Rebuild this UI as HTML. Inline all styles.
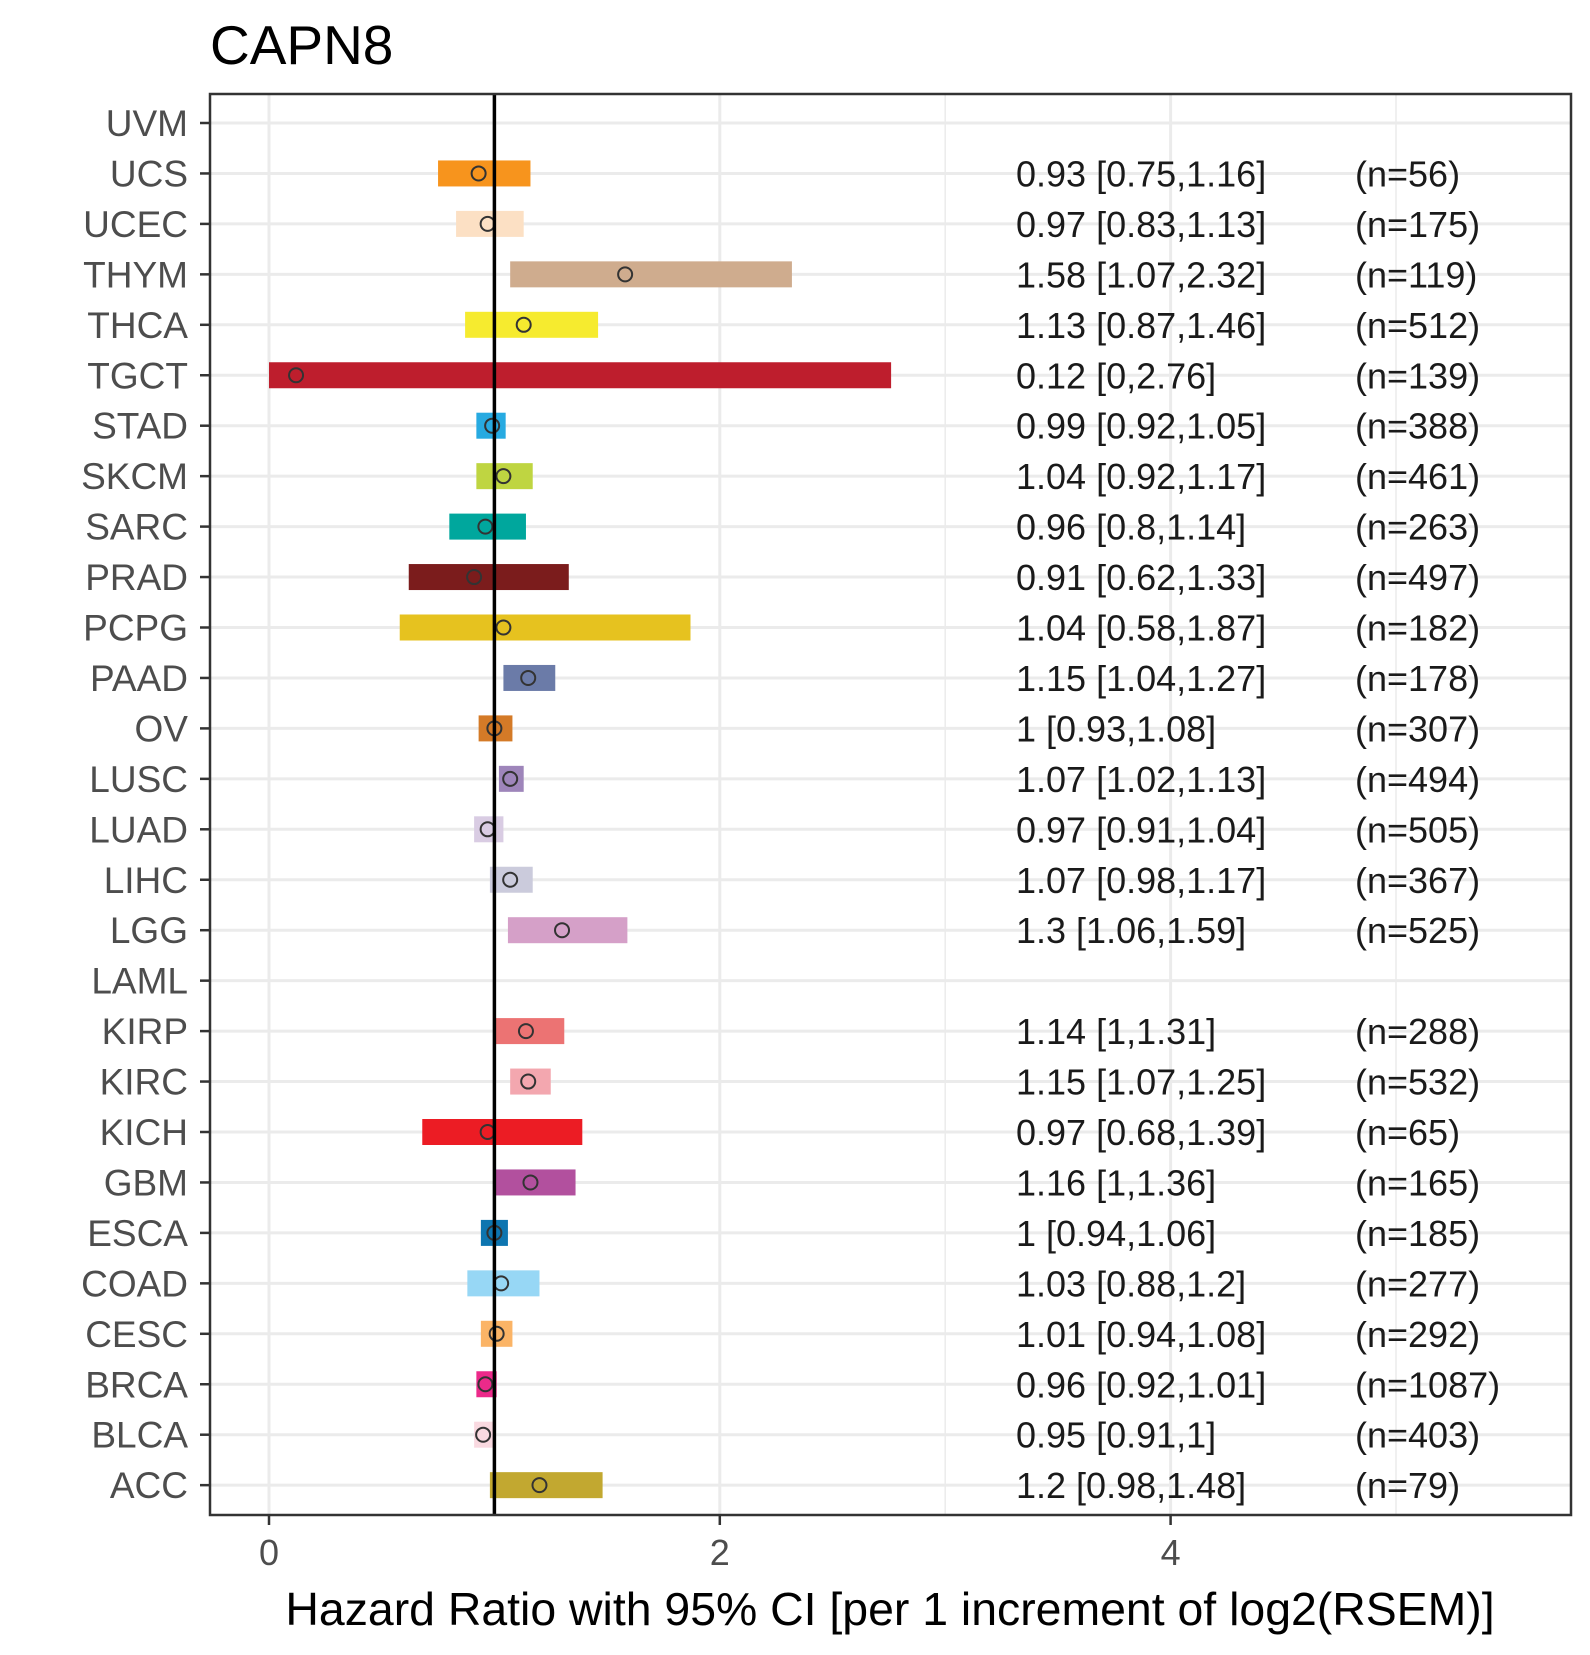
<!DOCTYPE html>
<html><head><meta charset="utf-8"><style>
body{margin:0;background:#fff;}
svg text{font-family:"Liberation Sans",Arial,sans-serif;}
</style></head><body>
<svg id="chart" width="1590" height="1650" viewBox="0 0 1590 1650" xmlns="http://www.w3.org/2000/svg">
<rect width="1590" height="1650" fill="#fff"/>
<text x="210" y="64" font-size="55" fill="#000">CAPN8</text>
<g id="grid"></g>
<g id="bars"></g>
<line x1="494.4" y1="94" x2="494.4" y2="1515" stroke="#000" stroke-width="3.5"/>
<rect x="210" y="94" width="1361" height="1421" fill="none" stroke="#333" stroke-width="2.5"/>
<g id="axes"></g>
<text x="890" y="1625" font-size="46.4" text-anchor="middle" fill="#000">Hazard Ratio with 95% CI [per 1 increment of log2(RSEM)]</text>
</svg>
<script>
const cancers=["UVM","UCS","UCEC","THYM","THCA","TGCT","STAD","SKCM","SARC","PRAD","PCPG","PAAD","OV","LUSC","LUAD","LIHC","LGG","LAML","KIRP","KIRC","KICH","GBM","ESCA","COAD","CESC","BRCA","BLCA","ACC"];
const hr=[null,0.93,0.97,1.58,1.13,0.12,0.99,1.04,0.96,0.91,1.04,1.15,1,1.07,0.97,1.07,1.3,null,1.14,1.15,0.97,1.16,1,1.03,1.01,0.96,0.95,1.2];
const lo=[null,0.75,0.83,1.07,0.87,0,0.92,0.92,0.8,0.62,0.58,1.04,0.93,1.02,0.91,0.98,1.06,null,1,1.07,0.68,1,0.94,0.88,0.94,0.92,0.91,0.98];
const hi=[null,1.16,1.13,2.32,1.46,2.76,1.05,1.17,1.14,1.33,1.87,1.27,1.08,1.13,1.04,1.17,1.59,null,1.31,1.25,1.39,1.36,1.06,1.2,1.08,1.01,1,1.48];
const labels=["","0.93 [0.75,1.16]","0.97 [0.83,1.13]","1.58 [1.07,2.32]","1.13 [0.87,1.46]","0.12 [0,2.76]","0.99 [0.92,1.05]","1.04 [0.92,1.17]","0.96 [0.8,1.14]","0.91 [0.62,1.33]","1.04 [0.58,1.87]","1.15 [1.04,1.27]","1 [0.93,1.08]","1.07 [1.02,1.13]","0.97 [0.91,1.04]","1.07 [0.98,1.17]","1.3 [1.06,1.59]","","1.14 [1,1.31]","1.15 [1.07,1.25]","0.97 [0.68,1.39]","1.16 [1,1.36]","1 [0.94,1.06]","1.03 [0.88,1.2]","1.01 [0.94,1.08]","0.96 [0.92,1.01]","0.95 [0.91,1]","1.2 [0.98,1.48]"];
const ns=["","(n=56)","(n=175)","(n=119)","(n=512)","(n=139)","(n=388)","(n=461)","(n=263)","(n=497)","(n=182)","(n=178)","(n=307)","(n=494)","(n=505)","(n=367)","(n=525)","","(n=288)","(n=532)","(n=65)","(n=165)","(n=185)","(n=277)","(n=292)","(n=1087)","(n=403)","(n=79)"];
const colors=["#fff","#F7941D","#FCE0C4","#CFAC8E","#F6EB2F","#BE1E2D","#27AAE1","#BFD541","#00A79D","#7B1C1C","#E6C21F","#6B7BA8","#D47A27","#9E85BA","#D9CCE3","#CBCBDC","#D5A0C8","#fff","#EC7373","#F3A7AF","#EC1C24","#B2509E","#0D75B0","#97D7F5","#FBB466","#EC2A8A","#F9D9E0","#C2A830"];
const xTicks=[0,2,4];
const xMinor=[1,3,5];
const NS="http://www.w3.org/2000/svg";
const X=v=>269+v*225.4;
const Y=i=>123+i*50.45;
function mk(tag,attrs,parent){const e=document.createElementNS(NS,tag);for(const k in attrs)e.setAttribute(k,attrs[k]);parent.appendChild(e);return e;}
const grid=document.getElementById('grid'),bars=document.getElementById('bars'),axes=document.getElementById('axes');
xMinor.forEach(v=>{const l=mk('line',{x1:X(v),x2:X(v),y1:94,y2:1515,stroke:'#ebebeb','stroke-width':1.5},grid);

});
xTicks.forEach(v=>{const l=mk('line',{x1:X(v),x2:X(v),y1:94,y2:1515,stroke:'#ebebeb','stroke-width':3},grid);


const t=mk('line',{x1:X(v),x2:X(v),y1:1515,y2:1525,stroke:'#333','stroke-width':2.5},axes);


const tx=mk('text',{x:X(v),y:1565,'font-size':36,'text-anchor':'middle',fill:'#4d4d4d'},axes);tx.textContent=v;

});
cancers.forEach((c,i)=>{const y=Y(i);
const g=mk('line',{x1:210,x2:1571,y1:y,y2:y,stroke:'#ebebeb','stroke-width':3},grid);


const t=mk('line',{x1:200,x2:210,y1:y,y2:y,stroke:'#333','stroke-width':2.5},axes);


const lab=mk('text',{x:188,y:y+13,'font-size':37,'text-anchor':'end',fill:'#4d4d4d'},axes);lab.textContent=c;


if(hr[i]!==null){
const b=mk('rect',{x:X(lo[i]),y:y-13,width:X(hi[i])-X(lo[i]),height:26,fill:colors[i]},bars);


const p=mk('circle',{cx:X(hr[i]),cy:y,r:7,fill:'none',stroke:'#333','stroke-width':2},bars);

}
const ht=mk('text',{x:1016,y:y+13,'font-size':36,fill:'#1a1a1a'},bars);ht.textContent=labels[i];


const nt=mk('text',{x:1355,y:y+13,'font-size':36,fill:'#1a1a1a'},bars);nt.textContent=ns[i];


});
</script>
</body></html>
